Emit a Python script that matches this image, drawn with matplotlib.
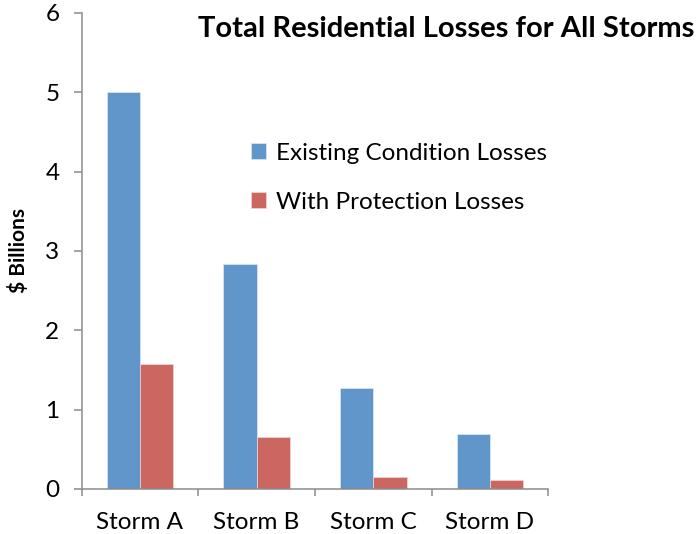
import matplotlib
matplotlib.use("Agg")
import matplotlib.pyplot as plt
import numpy as np

plt.rcParams['font.family'] = ['Lato', 'DejaVu Sans']

# losses per storm, in billions of dollars
storms = ["Storm A", "Storm B", "Storm C", "Storm D"]
existing = [5.01, 2.83, 1.27, 0.69]
protected = [1.58, 0.65, 0.15, 0.11]

blue = "#6096CA"
red = "#CC6660"
axis_grey = "#8C8C8C"

fig = plt.figure(figsize=(7, 5.34), dpi=100)
ax = fig.add_axes([0.1166, 0.0843, 0.6666, 0.8914])

x = np.arange(len(storms))
w = 1 / 3.5  # two bars plus a 150% gap per category
ax.bar(x - w / 2, existing, w, color=blue, edgecolor="#DCE8F4", linewidth=0.5,
       label="Existing Condition Losses")
ax.bar(x + w / 2, protected, w, color=red, edgecolor="#F2D6D4", linewidth=0.5,
       label="With Protection Losses")

ax.set_xlim(-0.5, len(storms) - 0.5)
ax.set_ylim(0, 6)
ax.set_yticks(range(7))

ax.set_xticks(x)
ax.set_xticklabels(storms, fontsize=17.5)
ax.set_xticks(np.arange(-0.5, len(storms)), minor=True)
ax.tick_params(axis="x", which="major", length=0, pad=16.5)
ax.tick_params(axis="x", which="minor", length=5, width=1.1, color=axis_grey)
ax.tick_params(axis="y", length=6, width=1.1, color=axis_grey, pad=10, labelsize=17.5)

for side in ("top", "right"):
    ax.spines[side].set_visible(False)
for side in ("left", "bottom"):
    ax.spines[side].set_color(axis_grey)
    ax.spines[side].set_linewidth(1.1)

ax.set_ylabel("$ Billions", fontsize=15, fontweight="bold", labelpad=12)

fig.text(0.637, 0.946, "Total Residential Losses for All Storms",
         fontsize=21, fontweight="bold", ha="center", va="center")

ax.legend(loc="upper left", bbox_to_anchor=(0.363, 0.727), frameon=False,
          fontsize=17.5, handlelength=0.62, handleheight=0.62,
          handletextpad=0.4, labelspacing=1.15, borderpad=0, borderaxespad=0)

fig.savefig("out.png", dpi=100)
